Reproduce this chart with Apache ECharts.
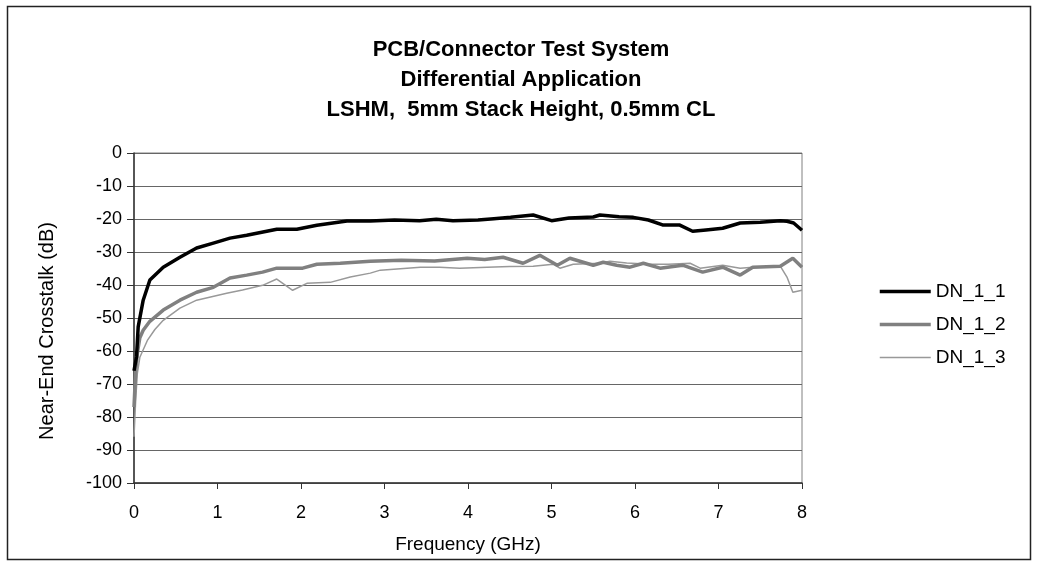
<!DOCTYPE html>
<html>
<head>
<meta charset="utf-8">
<script src="https://cdn.jsdelivr.net/npm/echarts@6/dist/echarts.min.js"></script>
<style>
html,body{margin:0;padding:0;background:#fff;}
#c{width:1039px;height:567px;}
</style>
</head>
<body>
<div id="c"></div>
<script>
var titleLines = ['PCB/Connector Test System', 'Differential Application', 'LSHM,  5mm Stack Height, 0.5mm CL'];
var xAxisName = 'Frequency (GHz)';
var yAxisName = 'Near-End Crosstalk (dB)';
var xTicks = [0,1,2,3,4,5,6,7,8];
var yTicks = [0,-10,-20,-30,-40,-50,-60,-70,-80,-90,-100];
var seriesNames = ['DN_1_1','DN_1_2','DN_1_3'];

var dn11Freq = [0,0.03,0.05,0.11,0.19,0.35,0.55,0.75,0.95,1.15,1.35,1.53,1.71,1.95,2.19,2.55,2.83,3.12,3.42,3.62,3.82,4.12,4.31,4.51,4.78,5.0,5.21,5.5,5.58,5.81,5.98,6.16,6.33,6.53,6.69,6.85,7.05,7.26,7.5,7.74,7.82,7.9,8];
var dn11Val  = [-66,-61.8,-52.7,-44.6,-38.5,-34.6,-31.6,-28.8,-27.3,-25.8,-24.9,-24,-23.1,-23.1,-21.9,-20.6,-20.6,-20.3,-20.5,-20.1,-20.5,-20.3,-19.9,-19.5,-18.8,-20.5,-19.7,-19.4,-18.8,-19.3,-19.5,-20.3,-21.8,-21.8,-23.7,-23.3,-22.8,-21.2,-21,-20.5,-20.7,-21.2,-23.4];

var dn12Freq = [0,0.02,0.04,0.07,0.11,0.19,0.35,0.55,0.75,0.95,1.15,1.35,1.54,1.71,2.02,2.19,2.47,2.83,3.2,3.6,3.99,4.2,4.42,4.66,4.86,5.07,5.22,5.5,5.62,5.78,5.94,6.1,6.3,6.57,6.81,7.05,7.26,7.41,7.74,7.89,8];
var dn12Val  = [-77,-66,-60.7,-56,-53.7,-51,-47.6,-44.6,-42.2,-40.7,-37.9,-37,-36.1,-34.9,-34.9,-33.7,-33.4,-32.8,-32.5,-32.7,-31.9,-32.3,-31.6,-33.4,-31,-34,-31.9,-34,-33.1,-34,-34.6,-33.4,-34.9,-34,-36.1,-34.6,-37,-34.6,-34.3,-31.9,-34.6];

var dn13Freq = [0,0.02,0.04,0.07,0.16,0.25,0.35,0.55,0.75,1.11,1.3,1.54,1.71,1.9,2.07,2.35,2.59,2.83,2.95,3.43,3.66,3.9,4.23,4.5,4.78,5.02,5.1,5.26,5.58,5.7,5.9,6.18,6.4,6.66,6.78,7.05,7.26,7.41,7.74,7.82,7.89,8];
var dn13Val  = [-86,-75,-66.8,-61.9,-56.8,-53.5,-50.7,-47,-44.6,-42.5,-41.5,-40.1,-38.2,-41.6,-39.5,-39.2,-37.6,-36.4,-35.5,-34.6,-34.6,-34.9,-34.6,-34.4,-34.3,-33.7,-34.9,-33.7,-33.4,-32.8,-33.3,-33.7,-33.7,-33.4,-34.9,-34,-34.9,-34.6,-34.3,-37.6,-42.2,-41.6];

function pairs(f, v){ var out=[]; for (var i=0;i<f.length;i++) out.push([f[i], v[i]]); return out; }

var font = 'Liberation Sans, Arial, sans-serif';
var colors = ['#000000', '#808080', '#999999'];
var widths = [3.5, 3.5, 1.5];

var graphics = [{
  type:'rect', shape:{x:7.5,y:6.5,width:1023,height:553},
  style:{fill:'none', stroke:'#222', lineWidth:1.5}, z:-1, silent:true
}];
titleLines.forEach(function(t, i){
  graphics.push({type:'text', x:521, y:50 + i*30, silent:true,
    style:{text:t, fill:'#000', font:'bold 22px ' + font, textAlign:'center', textVerticalAlign:'middle'}});
});
graphics.push({type:'text', x:47, y:331, rotation:Math.PI/2, silent:true,
  style:{text:yAxisName, fill:'#000', font:'20px ' + font, textAlign:'center', textVerticalAlign:'middle'}});

var chart = echarts.init(document.getElementById('c'), null, {renderer:'canvas'});
chart.setOption({
  animation:false,
  backgroundColor:'#fff',
  textStyle:{fontFamily:font},
  graphic: graphics,
  legend:{
    orient:'vertical', left:873, top:277,
    itemWidth:51, itemHeight:14, itemGap:14,
    itemStyle:{opacity:0},
    data: seriesNames.map(function(n, i){
      return {name:n, itemStyle:{opacity:0}, lineStyle:{width:widths[i], color:colors[i]}};
    }),
    textStyle:{fontSize:19, color:'#000', fontFamily:font}
  },
  grid:{left:134, top:153, right:237, bottom:84, show:true, borderColor:'#808080', borderWidth:1, backgroundColor:'#fff'},
  xAxis:{
    type:'value', min:0, max:8, interval:1,
    name:xAxisName, nameLocation:'middle', nameGap:52,
    nameTextStyle:{fontSize:19, color:'#000', fontFamily:font},
    axisLine:{show:true, onZero:false, lineStyle:{color:'#333', width:1.5}},
    axisTick:{show:true, length:6, lineStyle:{color:'#333'}},
    axisLabel:{fontSize:18, color:'#000', margin:21, fontFamily:font},
    splitLine:{show:false}
  },
  yAxis:{
    type:'value', min:-100, max:0, interval:10,
    axisLine:{show:true, lineStyle:{color:'#333', width:1.5}},
    axisTick:{show:true, length:7, lineStyle:{color:'#333'}},
    axisLabel:{fontSize:18, color:'#000', margin:12, fontFamily:font},
    splitLine:{show:true, lineStyle:{color:'#666', width:1}}
  },
  series:[
    {name:seriesNames[0], type:'line', data:pairs(dn11Freq, dn11Val), showSymbol:false, symbol:'none',
     lineStyle:{color:colors[0], width:widths[0]}, itemStyle:{color:colors[0]}, z:3},
    {name:seriesNames[1], type:'line', data:pairs(dn12Freq, dn12Val), showSymbol:false, symbol:'none',
     lineStyle:{color:colors[1], width:widths[1]}, itemStyle:{color:colors[1]}, z:2},
    {name:seriesNames[2], type:'line', data:pairs(dn13Freq, dn13Val), showSymbol:false, symbol:'none',
     lineStyle:{color:colors[2], width:widths[2]}, itemStyle:{color:colors[2]}, z:1}
  ]
});
</script>
</body>
</html>
